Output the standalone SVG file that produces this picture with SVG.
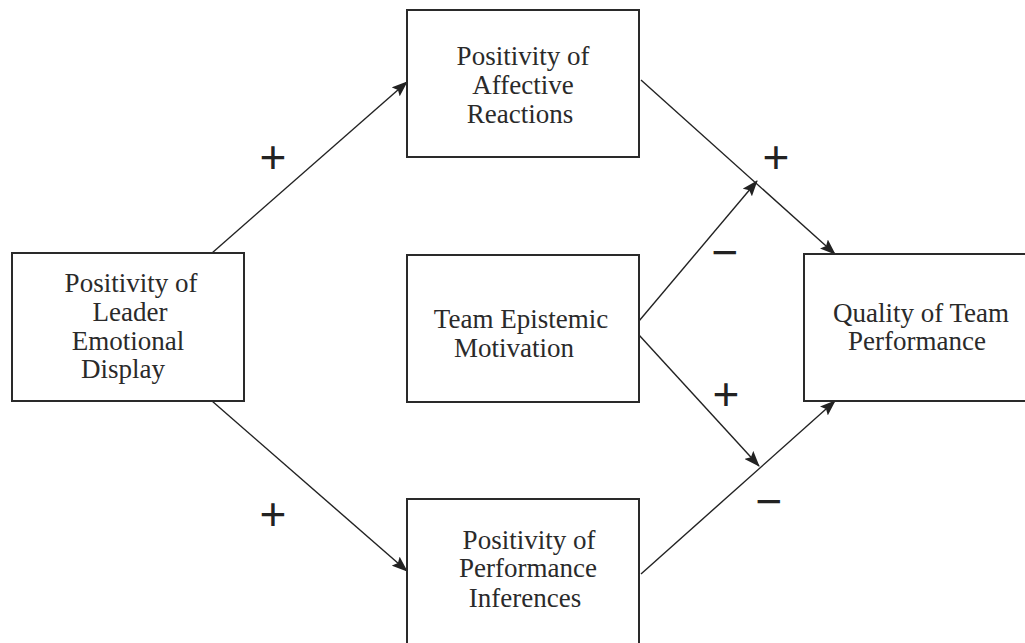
<svg xmlns="http://www.w3.org/2000/svg" width="1025" height="643" viewBox="0 0 1025 643">
<style>
.box{fill:#fff;stroke:#2a2a2a;stroke-width:2}
.lbl{font-family:"Liberation Serif","DejaVu Serif",serif;font-size:27px;fill:#2a2a2a;text-anchor:middle}
.sign{font-family:"Liberation Sans",Arial,sans-serif;font-size:46px;fill:#222;text-anchor:middle}
.conn{stroke:#222;stroke-width:1.4;fill:none;marker-end:url(#ah)}
</style>
<defs>
<marker id="ah" markerUnits="userSpaceOnUse" markerWidth="16" markerHeight="12" viewBox="0 0 16 12" refX="15" refY="6" orient="auto">
<path d="M0,0 L16,6 L0,12 L3,6 Z" fill="#222"/>
</marker>
</defs>
<rect width="1025" height="643" fill="#fff"/>
<g id="connectors">
<line class="conn" x1="212" y1="253" x2="407" y2="82"/>
<line class="conn" x1="212" y1="401" x2="407" y2="571"/>
<line class="conn" x1="641" y1="80" x2="835" y2="254"/>
<line class="conn" x1="639" y1="321" x2="757" y2="181"/>
<line class="conn" x1="639" y1="335" x2="759" y2="466"/>
<line class="conn" x1="641" y1="574" x2="835" y2="401"/>
</g>
<g id="leader">
<rect class="box" x="12" y="253" width="232" height="148"/>
<text class="lbl" x="131" y="292">Positivity of</text>
<text class="lbl" x="130" y="321">Leader</text>
<text class="lbl" x="128" y="350">Emotional</text>
<text class="lbl" x="123" y="378">Display</text>
</g>
<g id="affective">
<rect class="box" x="407" y="10" width="232" height="147"/>
<text class="lbl" x="523" y="65">Positivity of</text>
<text class="lbl" x="523" y="94">Affective</text>
<text class="lbl" x="520" y="123">Reactions</text>
</g>
<g id="epistemic">
<rect class="box" x="407" y="255" width="232" height="147"/>
<text class="lbl" x="521" y="328">Team Epistemic</text>
<text class="lbl" x="514" y="357">Motivation</text>
</g>
<g id="inferences">
<rect class="box" x="407" y="499" width="232" height="150"/>
<text class="lbl" x="529" y="549">Positivity of</text>
<text class="lbl" x="528" y="577">Performance</text>
<text class="lbl" x="525" y="607">Inferences</text>
</g>
<g id="quality">
<rect class="box" x="804" y="254" width="230" height="147"/>
<text class="lbl" x="921" y="322">Quality of Team</text>
<text class="lbl" x="917" y="350">Performance</text>
</g>
<g id="signs">
<text class="sign" x="273" y="173">+</text>
<text class="sign" x="776" y="173">+</text>
<text class="sign" x="725" y="268">−</text>
<text class="sign" x="726" y="410">+</text>
<text class="sign" x="769" y="517">−</text>
<text class="sign" x="273" y="530">+</text>
</g>
</svg>
